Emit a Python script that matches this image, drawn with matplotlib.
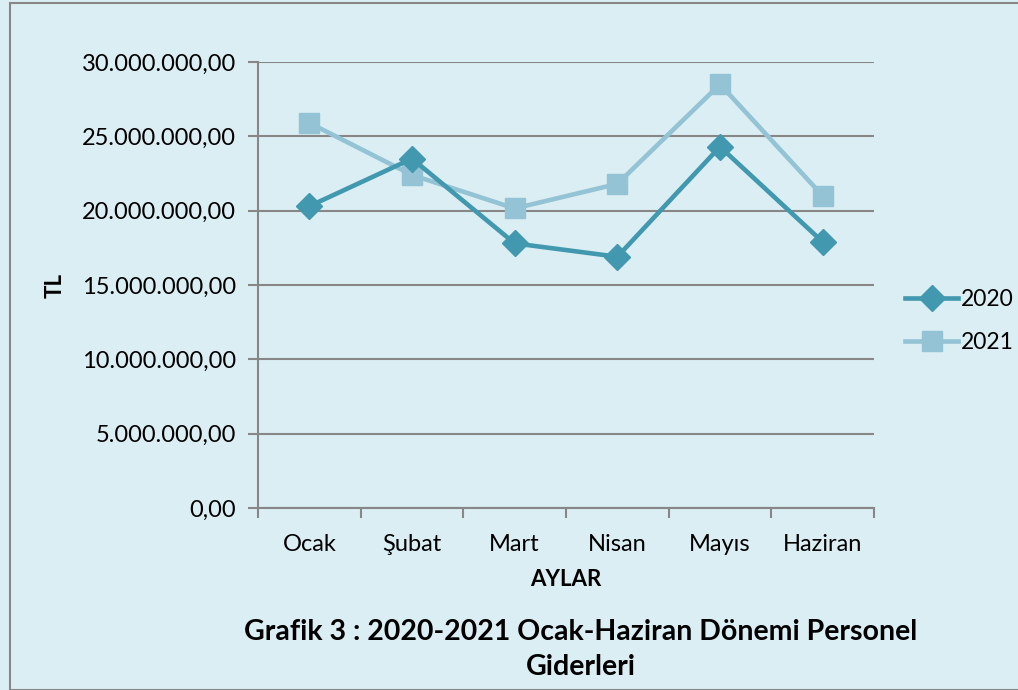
import matplotlib
matplotlib.use("Agg")
import matplotlib.pyplot as plt
from matplotlib.ticker import FuncFormatter, FixedLocator
from matplotlib.patches import Rectangle

months = ["Ocak", "Şubat", "Mart", "Nisan", "Mayıs", "Haziran"]
y2020 = [20.3e6, 23.5e6, 17.8e6, 16.9e6, 24.3e6, 17.9e6]
y2021 = [25.9e6, 22.4e6, 20.15e6, 21.8e6, 28.5e6, 21.0e6]
yticks = [0, 5e6, 10e6, 15e6, 20e6, 25e6, 30e6]

plt.rcParams['font.family'] = ['Lato', 'DejaVu Sans']
bg = '#DBEEF3'
c2020 = '#4198AF'
c2021 = '#93C3D4'
grid = '#878787'

fig = plt.figure(figsize=(10.18, 6.9), dpi=100)
fig.patch.set_facecolor(bg)
W, H = 1018, 690
ax = fig.add_axes([258 / W, 1 - 508 / H, (874 - 258) / W, (508 - 62) / H])
ax.set_facecolor(bg)

x = list(range(len(months)))
ax.plot(x, y2020, color=c2020, lw=3.3, marker='D', ms=13, label='2020', zorder=4)
ax.plot(x, y2021, color=c2021, lw=3.3, marker='s', ms=14, label='2021', zorder=3)

ax.set_xlim(-0.5, len(months) - 0.5)
ax.set_ylim(0, 30e6)
ax.set_yticks(yticks)
ax.yaxis.set_major_formatter(FuncFormatter(
    lambda v, p: f"{v:,.2f}".replace(",", "X").replace(".", ",").replace("X", ".")))
ax.set_xticks(x)
ax.set_xticklabels(months)
ax.xaxis.set_minor_locator(FixedLocator([i - 0.5 for i in range(len(months) + 1)]))
ax.tick_params(axis='x', which='major', length=0, pad=19, labelsize=17)
ax.tick_params(axis='x', which='minor', length=7, width=1.5, color=grid)
ax.tick_params(axis='y', length=7, width=1.5, color=grid, labelsize=17, pad=9)
ax.grid(axis='y', color=grid, lw=1.5)
ax.set_axisbelow(True)
for s in ['top', 'right']:
    ax.spines[s].set_visible(False)
for s in ['left', 'bottom']:
    ax.spines[s].set_color(grid)
    ax.spines[s].set_linewidth(1.5)

fig.text(55 / W, 1 - 285 / H, 'TL', rotation=90, ha='center', va='center',
         fontsize=16, fontweight='bold')
fig.text(566 / W, 1 - 580 / H, 'AYLAR', ha='center', va='center',
         fontsize=16, fontweight='bold')
fig.text(581 / W, 1 - 632 / H, 'Grafik 3 : 2020-2021 Ocak-Haziran Dönemi Personel',
         ha='center', va='center', fontsize=20.5, fontweight='bold')
fig.text(581 / W, 1 - 667 / H, 'Giderleri',
         ha='center', va='center', fontsize=20.5, fontweight='bold')

leg = fig.legend(loc='center left', bbox_to_anchor=(894 / W, 1 - 321 / H),
                 frameon=False, fontsize=16.5, handlelength=2.3, handletextpad=0.1,
                 labelspacing=1.0, borderpad=0)

fig.patches.append(Rectangle((10 / W, 0), 1.2, 1 - 3 / H, transform=fig.transFigure,
                             fill=False, edgecolor=grid, lw=1.5))

fig.savefig('out.png', dpi=100, facecolor=bg)
